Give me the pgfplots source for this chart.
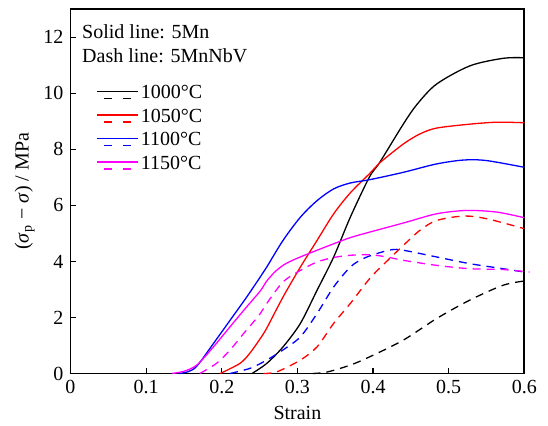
\documentclass[border=0pt]{standalone}
\usepackage{fontspec}
\setmainfont{Liberation Serif}
\usepackage{pgfplots}
\pgfplotsset{compat=1.18}
\definecolor{mag}{RGB}{255,0,255}
\definecolor{rd}{RGB}{255,0,0}
\definecolor{bl}{RGB}{0,0,255}
\begin{document}
\begin{tikzpicture}
\begin{axis}[
  scale only axis,
  width=226.9pt, height=182.1pt,
  xmin=0, xmax=0.6, ymin=0, ymax=13,
  xtick={0,0.1,0.2,0.3,0.4,0.5,0.6},
  ytick={0,2,4,6,8,10,12},
  xticklabels={0,0.1,0.2,0.3,0.4,0.5,0.6},
  tick align=inside, xtick pos=left, ytick pos=left,
  major tick length=2.75pt,
  /pgf/number format/assume math mode=true,
  axis line style={line width=0.8pt},
  every tick/.style={black, line width=0.6pt},
  xlabel={Strain},
  xlabel style={yshift=1pt},
  ylabel={(\textit{σ}\textsubscript{p} − \textit{σ}) / MPa},
  ylabel style={yshift=-2.5pt},
  clip=false,
  legend style={draw=none, fill=none, at={(axis cs:0.026,8.7)}, anchor=west,
    font=\normalsize, row sep=0pt,
    nodes={inner sep=1pt, text height=7pt, text depth=2.75pt}},
  legend cell align=left,
  every axis plot/.append style={line width=0.65pt, smooth, tension=0.5},
]
% 1000 C, 5Mn
\addplot[black, forget plot] coordinates {(0.240,0) (0.2595,0.36) (0.281,0.95) (0.304,1.79) (0.326,2.97) (0.348,4.16) (0.370,5.58) (0.395,7.0) (0.409,7.54) (0.440,8.90) (0.458,9.6) (0.484,10.33) (0.528,10.98) (0.572,11.25) (0.6,11.27)};
% 1050 C, 5Mn
\addplot[rd, forget plot] coordinates {(0.198,0) (0.224,0.36) (0.237,0.72) (0.251,1.25) (0.2595,1.62) (0.281,2.73) (0.304,3.80) (0.326,4.75) (0.348,5.70) (0.370,6.45) (0.396,7.15) (0.408,7.5) (0.440,8.19) (0.462,8.55) (0.484,8.76) (0.528,8.90) (0.564,8.97) (0.6,8.95)};
% 1100 C, 5Mn
\addplot[bl, forget plot] coordinates {(0.143,0) (0.155,0.06) (0.167,0.26) (0.189,1.07) (0.211,1.90) (0.233,2.73) (0.251,3.45) (0.2595,3.80) (0.281,4.75) (0.304,5.58) (0.326,6.17) (0.348,6.59) (0.370,6.80) (0.396,6.92) (0.440,7.18) (0.484,7.48) (0.520,7.62) (0.550,7.60) (0.6,7.36)};
% 1150 C, 5Mn
\addplot[mag, forget plot] coordinates {(0.134,0) (0.150,0.08) (0.167,0.30) (0.189,0.95) (0.211,1.67) (0.233,2.38) (0.251,2.95) (0.2595,3.30) (0.270,3.62) (0.281,3.86) (0.292,4.02) (0.304,4.16) (0.326,4.40) (0.348,4.63) (0.370,4.85) (0.396,5.05) (0.440,5.37) (0.484,5.70) (0.524,5.82) (0.564,5.76) (0.6,5.56)};
% 1000 C, 5MnNbV
\addplot[black, dash pattern=on 4pt off 3pt, forget plot] coordinates {(0.320,0) (0.339,0.05) (0.370,0.30) (0.396,0.60) (0.440,1.19) (0.484,1.96) (0.528,2.62) (0.572,3.15) (0.6,3.30)};
% 1050 C, 5MnNbV
\addplot[rd, dash pattern=on 4pt off 3pt, forget plot] coordinates {(0.255,0) (0.273,0.06) (0.304,0.48) (0.326,0.95) (0.348,1.79) (0.370,2.50) (0.396,3.40) (0.418,4.00) (0.440,4.57) (0.462,5.11) (0.484,5.46) (0.520,5.62) (0.551,5.52) (0.6,5.17)};
% 1100 C, 5MnNbV
\addplot[bl, dash pattern=on 4pt off 3pt, forget plot] coordinates {(0.211,0) (0.238,0.19) (0.2595,0.48) (0.281,0.84) (0.304,1.31) (0.326,2.14) (0.348,3.09) (0.370,3.80) (0.387,4.10) (0.405,4.28) (0.425,4.42) (0.440,4.40) (0.484,4.16) (0.528,3.92) (0.572,3.74) (0.6,3.62)};
% 1150 C, 5MnNbV
\addplot[mag, dash pattern=on 4pt off 3pt, forget plot] coordinates {(0.171,0) (0.193,0.36) (0.211,0.84) (0.229,1.43) (0.237,1.68) (0.251,2.14) (0.2595,2.50) (0.281,3.27) (0.304,3.68) (0.326,3.98) (0.348,4.14) (0.370,4.22) (0.396,4.24) (0.418,4.16) (0.440,4.04) (0.484,3.86) (0.528,3.74) (0.572,3.71) (0.607,3.62)};
\addlegendimage{legend image code/.code={\draw[black, line width=0.65pt] (0pt,1.5pt) -- (20.5pt,1.5pt); \draw[black, line width=0.65pt, dash pattern=on 4pt off 5.5pt] (3.5pt,-2pt) -- (17pt,-2pt);}}
\addlegendentry{1000°C}
\addlegendimage{legend image code/.code={\draw[rd, line width=0.65pt] (0pt,1.5pt) -- (20.5pt,1.5pt); \draw[rd, line width=0.65pt, dash pattern=on 4pt off 5.5pt] (3.5pt,-2pt) -- (17pt,-2pt);}}
\addlegendentry{1050°C}
\addlegendimage{legend image code/.code={\draw[bl, line width=0.65pt] (0pt,1.5pt) -- (20.5pt,1.5pt); \draw[bl, line width=0.65pt, dash pattern=on 4pt off 5.5pt] (3.5pt,-2pt) -- (17pt,-2pt);}}
\addlegendentry{1100°C}
\addlegendimage{legend image code/.code={\draw[mag, line width=0.65pt] (0pt,1.5pt) -- (20.5pt,1.5pt); \draw[mag, line width=0.65pt, dash pattern=on 4pt off 5.5pt] (3.5pt,-2pt) -- (17pt,-2pt);}}
\addlegendentry{1150°C}
\node[anchor=north west, align=left, inner sep=0pt] at (axis cs:0.015,12.45) {Solid line: 5Mn\\Dash line: 5MnNbV};
\end{axis}
\pgfresetboundingbox
\path (-35.25pt,-26.25pt) rectangle (238.75pt,186.75pt);
\end{tikzpicture}
\end{document}
